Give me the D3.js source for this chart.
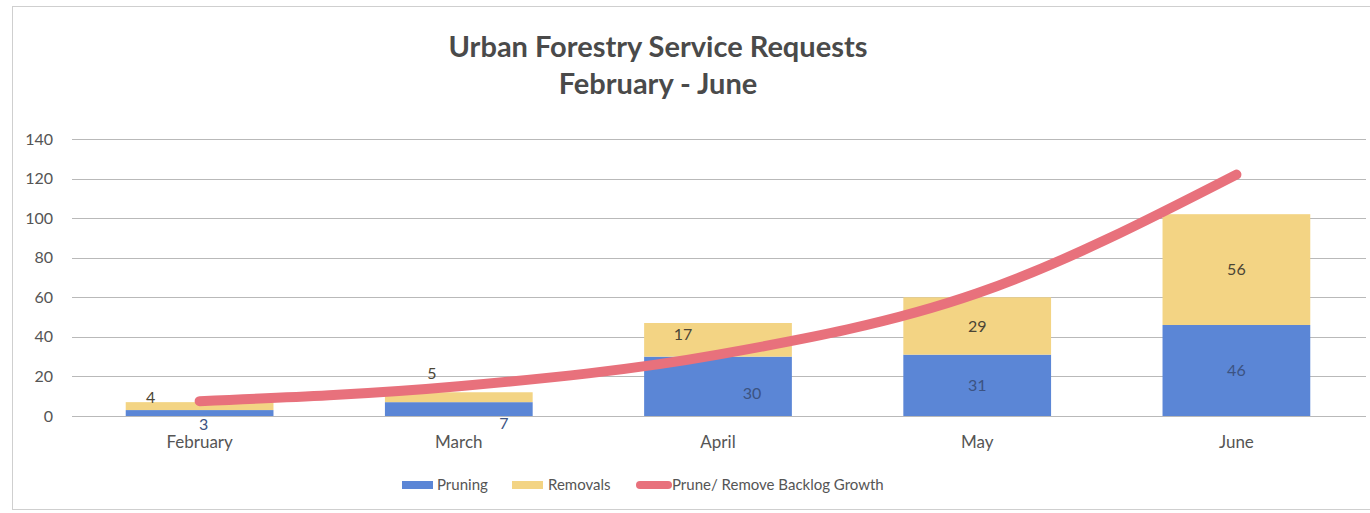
<!DOCTYPE html>
<html>
<head>
<meta charset="utf-8">
<script src="https://cdn.jsdelivr.net/npm/d3@7"></script>
<style>
  body { margin: 0; background: #fff; }
  svg { display: block; font-family: Lato, "Open Sans", sans-serif; }
</style>
</head>
<body>
<div id="chart"></div>
<script>
// chart data
var months = ["February", "March", "April", "May", "June"];
var pruning = [3, 7, 30, 31, 46];
var removals = [4, 5, 17, 29, 56];
var backlog = [7.5, 15, 31, 62, 122];
var yTicks = [0, 20, 40, 60, 80, 100, 120, 140];

// label nudges (layout only), [dx, dy] from the middle of each segment
var pruneLabelPos = [[4, 11], [45, 14], [34, 7], [0, 0], [0, 0]];
var removeLabelPos = [[-49, -9], [-27, -24], [-35, -5], [0, 0], [0, 0]];

var W = 1370, H = 513;
var margin = {top: 139, right: 4, bottom: 97, left: 70};

var svg = d3.select("#chart").append("svg")
    .attr("width", W)
    .attr("height", H);

// frame
svg.append("rect")
    .attr("x", 12.5).attr("y", 6.5)
    .attr("width", W + 10).attr("height", 503)
    .attr("fill", "none")
    .attr("stroke", "#cfcfcf");

var g = svg.append("g")
    .attr("transform", "translate(" + margin.left + "," + margin.top + ")");

var width = W - margin.left - margin.right,
    height = H - margin.top - margin.bottom;

var x = d3.scaleBand()
    .domain(months)
    .range([0, width])
    .paddingInner(0.43)
    .paddingOuter(0.215);

var y = d3.scaleLinear()
    .domain([0, 140])
    .range([height, 0]);

// gridlines
g.append("g")
    .selectAll("line")
    .data(yTicks)
    .enter().append("line")
    .attr("x1", 2)
    .attr("x2", width)
    .attr("y1", function(d) { return Math.round(y(d)) + 0.5; })
    .attr("y2", function(d) { return Math.round(y(d)) + 0.5; })
    .attr("stroke", "#b9b9b9")
    .attr("stroke-width", 1);

// y axis labels
var yAxis = g.append("g")
    .call(d3.axisLeft(y).tickValues(yTicks).tickSize(0).tickPadding(17));
yAxis.select(".domain").remove();
yAxis.selectAll("text")
    .attr("font-size", "16px")
    .attr("fill", "#555")
    .attr("font-family", "Lato, sans-serif");

// x axis labels
var xAxis = g.append("g")
    .attr("transform", "translate(0," + height + ")")
    .call(d3.axisBottom(x).tickSize(0).tickPadding(20));
xAxis.select(".domain").remove();
xAxis.selectAll("text")
    .attr("font-size", "17px")
    .attr("fill", "#555")
    .attr("font-family", "Lato, sans-serif");

var table = months.map(function(m, i) {
    return {month: m, Pruning: pruning[i], Removals: removals[i]};
});
var stack = d3.stack().keys(["Pruning", "Removals"])(table);
var colors = {Pruning: "#5b86d6", Removals: "#f3d484"};

g.append("g")
    .selectAll("g")
    .data(stack)
    .enter().append("g")
    .attr("fill", function(d) { return colors[d.key]; })
    .selectAll("rect")
    .data(function(d) { return d; })
    .enter().append("rect")
    .attr("x", function(d) { return x(d.data.month); })
    .attr("y", function(d) { return y(d[1]); })
    .attr("width", x.bandwidth())
    .attr("height", function(d) { return y(d[0]) - y(d[1]); });

// backlog growth curve
var line = d3.line()
    .x(function(d, i) { return x(months[i]) + x.bandwidth() / 2; })
    .y(function(d) { return y(d); })
    .curve(d3.curveMonotoneX);

g.append("path")
    .datum(backlog)
    .attr("d", line)
    .attr("fill", "none")
    .attr("stroke", "#e8717c")
    .attr("stroke-width", 10)
    .attr("stroke-linecap", "round");

// data labels
stack.forEach(function(layer) {
    var nudge = layer.key == "Pruning" ? pruneLabelPos : removeLabelPos;
    g.append("g")
        .selectAll("text")
        .data(layer)
        .enter().append("text")
        .attr("x", function(d, i) { return x(d.data.month) + x.bandwidth() / 2 + nudge[i][0]; })
        .attr("y", function(d, i) { return (y(d[0]) + y(d[1])) / 2 + nudge[i][1]; })
        .attr("dy", "0.35em")
        .attr("text-anchor", "middle")
        .attr("font-size", "16px")
        .attr("fill", layer.key == "Pruning" ? "#3c5382" : "#4b4535")
        .text(function(d) { return d[1] - d[0]; });
});

// title
var title = svg.append("text")
    .attr("text-anchor", "middle")
    .attr("font-weight", "bold")
    .attr("font-size", "29px")
    .attr("fill", "#4a4a4a");
title.append("tspan").attr("x", 658).attr("y", 57).text("Urban Forestry Service Requests");
title.append("tspan").attr("x", 658).attr("y", 94).text("February - June");

// legend
var legend = svg.append("g").attr("font-size", "15px").attr("fill", "#555");
legend.append("rect").attr("x", 402).attr("y", 481).attr("width", 31).attr("height", 8).attr("fill", colors.Pruning);
legend.append("text").attr("x", 437).attr("y", 490).text("Pruning");
legend.append("rect").attr("x", 512).attr("y", 481).attr("width", 31).attr("height", 8).attr("fill", colors.Removals);
legend.append("text").attr("x", 548).attr("y", 490).text("Removals");
legend.append("line").attr("x1", 640).attr("x2", 668).attr("y1", 485).attr("y2", 485)
    .attr("stroke", "#e8717c").attr("stroke-width", 8).attr("stroke-linecap", "round");
legend.append("text").attr("x", 672).attr("y", 490).text("Prune/ Remove Backlog Growth");
</script>
</body>
</html>
